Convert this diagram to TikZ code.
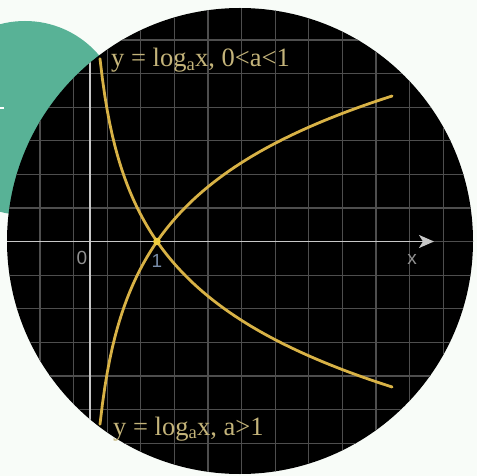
\documentclass[tikz,border=0pt]{standalone}
\usepackage{fontspec}
\setmainfont{Liberation Serif}
\newfontfamily\axfont{Liberation Sans}
\usetikzlibrary{arrows.meta}
\definecolor{bgc}{RGB}{248,252,248}
\definecolor{tealc}{RGB}{88,178,150}
\definecolor{gridc}{RGB}{78,78,78}
\definecolor{axisc}{RGB}{200,200,200}
\definecolor{curvec}{RGB}{216,178,70}
\definecolor{dotc}{RGB}{240,205,60}
\definecolor{labc}{RGB}{196,180,122}
\definecolor{numc}{RGB}{145,145,145}
\definecolor{onec}{RGB}{120,140,168}
\tikzset{
  gridline/.style={gridc, line width=1.1pt},
  axisline/.style={axisc, line width=1.6pt},
  curve/.style={curvec, line width=2.8pt, line cap=round},
  eqlabel/.style={labc, font=\fontsize{26.5}{26.5}\selectfont, inner sep=0pt, anchor=base west},
  numlabel/.style={font=\axfont\fontsize{19}{19}\selectfont, inner sep=0pt}
}
\begin{document}
\begin{tikzpicture}[x=1pt,y=-1pt]
\fill[bgc] (0,0) rectangle (477,476);
\useasboundingbox (0,0) rectangle (477,476);
\begin{scope}
  \clip (0,0) rectangle (477,476);
  \fill[tealc] (25,118) circle (97pt);
\end{scope}
\draw[white, line width=1.2pt] (0,108) -- (4,108);
\fill[black] (240,241) circle (233pt);
\begin{scope}
  \clip (240,241) circle (233pt);
  \foreach \i in {0,...,14}{
    \draw[gridline] ({6.4+33.6*\i},0) -- ({6.4+33.6*\i},476);
    \draw[gridline] (0,{6.4+33.6*\i}) -- (477,{6.4+33.6*\i});
  }
  \coordinate (ytop) at (90,0);
  \coordinate (ybot) at (90,476);
  \draw[axisline, line width=1.4pt] (ytop) -- (ybot);
  \coordinate (xs) at (0,241.5);
  \coordinate (xe) at (434,241.5);
  \draw[axisline, line width=1.8pt, -{Stealth[length=15pt,width=13pt,inset=4pt]}] (xs) -- (xe);
\end{scope}
\draw[curve, variable=\t, domain=0.149:4.51, samples=120]
  plot ({90+67*\t},{241.5-96.6*ln(\t)});
\draw[curve, variable=\t, domain=0.149:4.51, samples=120]
  plot ({90+67*\t},{241.5+96.6*ln(\t)});
\fill[dotc] (157,241.5) circle (3.8pt);
\node[numlabel, numc] (zero) at (82,258) {0};
\node[numlabel, onec] (one) at (157,261) {1};
\node[numlabel, numc] (xlab) at (412,259) {x};
\node[eqlabel] (lab1) at (111,67) {y = log\textsubscript{a}x, 0<a<1};
\node[eqlabel] (lab2) at (113,435) {y = log\textsubscript{a}x, a>1};
\end{tikzpicture}
\end{document}
